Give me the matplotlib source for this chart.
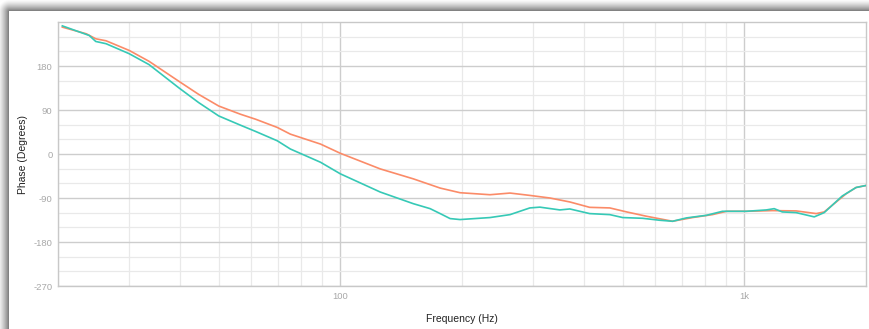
import numpy as np
import matplotlib.pyplot as plt
from matplotlib.ticker import FixedLocator, NullFormatter

# Phase response (Hz, degrees)
freq_orange = [20.5, 23.5, 24.8, 26.3, 30.0, 33.6, 39.8, 44.6, 50.0, 56.6, 61.7, 69.8,
               75.2, 89.3, 100, 125.5, 151.5, 176.6, 197.8, 234.6, 263, 294.4, 330,
               369.8, 414, 464.3, 511.3, 573, 664, 744, 833.6, 902.8, 1011, 1172,
               1343, 1506, 1576, 1786, 1890, 2000]
phase_orange = [259.5, 245.9, 235.7, 231.6, 211.9, 189.6, 148.9, 121.9, 98.1, 81.3,
                71.1, 54.3, 40.6, 20.3, 1.4, -30.5, -50.8, -69.7, -79.2, -83.3, -79.9,
                -84.7, -90.0, -98.1, -109.1, -110.3, -118.5, -127.4, -137.6, -130.0,
                -124.0, -117.2, -117.2, -115.8, -116.4, -121.9, -118.5, -81.3, -68.5,
                -64.4]

freq_teal = [20.5, 23.9, 24.8, 26.3, 30.0, 33.6, 39.8, 44.6, 50.0, 56.6, 61.7, 69.8,
             75.2, 89.3, 100, 125.5, 151.5, 166.8, 176.6, 186.9, 197.8, 234.6, 263,
             294.4, 311.7, 349.3, 369.8, 414, 464.3, 499.7, 559.7, 616.6, 664, 719,
             805.6, 882.5, 1011, 1133, 1185, 1241, 1343, 1489, 1576, 1746, 1890, 2000]
phase_teal = [262.1, 242.4, 230.2, 225.6, 205.2, 182.9, 135.5, 105.1, 77.8, 58.9, 46.1,
              27.0, 10.2, -16.9, -40.6, -77.8, -101.6, -111.8, -121.9, -132.1, -134.1,
              -130.0, -124.0, -110.3, -108.7, -114.4, -112.4, -121.9, -124.0, -130.0,
              -131.5, -135.5, -137.6, -130.7, -125.4, -117.2, -117.2, -114.4, -111.8,
              -118.5, -119.9, -128.6, -119.9, -86.0, -68.5, -64.4]

y_ticks = [-270, -180, -90, 0, 90, 180]
x_ticks = [100, 1000]
x_labels = ['100', '1k']

plt.rcParams['font.family'] = ['Liberation Sans', 'DejaVu Sans']
plt.rcParams['axes.unicode_minus'] = False

W, H = 869, 329
fig = plt.figure(figsize=(W / 100, H / 100), dpi=100)

# card with a soft drop shadow at the top and left
bg = fig.add_axes([0, 0, 1, 1])
xx, yy = np.meshgrid(np.arange(W), np.arange(H))
dx = np.clip(9 - xx, 0, None)
dy = np.clip(11 - yy, 0, None)
d = np.sqrt(dx ** 2 + dy ** 2)
shade = np.where(d > 0, np.clip(1 - d / 12.0, 0, 1), 0.0)
gray = 1 - 0.55 * shade ** 1.4
gray[(dx == 0) & (dy == 0)] = 1.0
bg.imshow(np.dstack([gray] * 3), aspect='auto', interpolation='bilinear')
bg.axis('off')

ax = fig.add_axes([58 / W, 43 / H, 808 / W, 264 / H])
ax.plot(freq_orange, phase_orange, color='#fb8b68', lw=1.2, zorder=3)
ax.plot(freq_teal, phase_teal, color='#36c9b6', lw=1.2, zorder=3)

ax.set_xscale('log')
ax.set_xlim(20, 2000)
ax.set_ylim(-270, 270)

ax.xaxis.set_major_locator(FixedLocator(x_ticks))
ax.set_xticklabels(x_labels)
ax.xaxis.set_minor_locator(FixedLocator([k * 10 ** e for e in (1, 2) for k in range(2, 10)]))
ax.xaxis.set_minor_formatter(NullFormatter())
ax.yaxis.set_major_locator(FixedLocator(y_ticks))
ax.yaxis.set_minor_locator(FixedLocator(list(range(-240, 270, 30))))

ax.grid(which='major', color='#cdcdcd', lw=1.0)
ax.grid(which='minor', color='#e9e9e9', lw=0.9)
ax.set_axisbelow(True)
ax.tick_params(which='both', length=0, labelsize=6.8, colors='#a8a8a8', pad=4)
for s in ax.spines.values():
    s.set_color('#c8c8c8')
    s.set_linewidth(1.0)

ax.set_xlabel('Frequency (Hz)', fontsize=7.5, color='#222222', labelpad=10)
ax.set_ylabel('Phase (Degrees)', fontsize=7.5, color='#222222', labelpad=4)

fig.savefig('out.png', dpi=100)
